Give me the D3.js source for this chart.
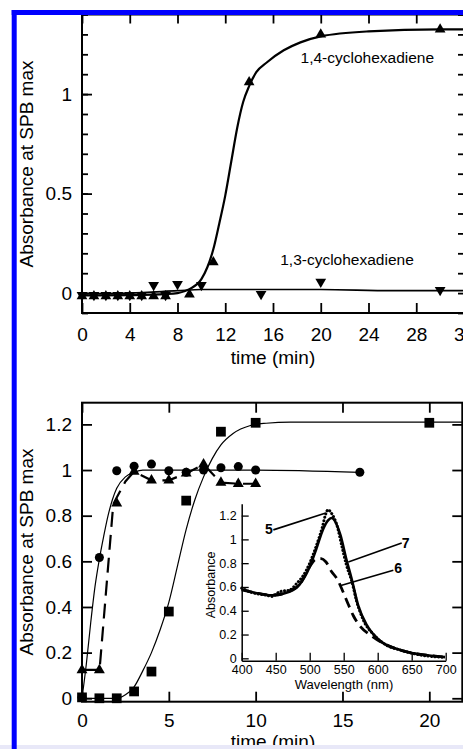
<!DOCTYPE html>
<html>
<head>
<meta charset="utf-8">
<script src="https://d3js.org/d3.v7.min.js"></script>
<style>
  body { margin: 0; background: #fff; }
  text { font-family: "Liberation Sans", Arial, sans-serif; fill: #000; }
</style>
</head>
<body>
<div id="chart"></div>
<script>
// ---- top panel: cyclohexadiene data ----
var time14 = [0, 1, 2, 3, 4, 5, 6, 7, 9, 11, 14, 20, 30];
var abs14 = [-0.015, -0.015, -0.015, -0.015, -0.015, -0.015, -0.015, -0.015, -0.007, 0.155, 1.06, 1.30, 1.325];
var time13 = [0, 1, 2, 3, 4, 5, 6, 7, 8, 10, 15, 20, 30];
var abs13 = [-0.01, -0.01, -0.01, -0.01, -0.01, -0.01, 0.04, -0.01, 0.045, 0.04, -0.005, 0.057, 0.015];
// fitted curves
var fit14Time = [0, 4, 7, 8, 9, 10, 10.5, 11, 11.5, 12, 12.5, 13, 13.5, 14, 14.6, 15.5, 16.9, 18.3, 20, 24, 30, 32];
var fit14Abs = [-0.012, -0.01, -0.005, 0.0, 0.02, 0.07, 0.13, 0.22, 0.35, 0.49, 0.66, 0.83, 0.96, 1.04, 1.11, 1.16, 1.22, 1.26, 1.29, 1.315, 1.325, 1.325];
var fit13Time = [0, 4, 8, 10, 20, 26, 32];
var fit13Abs = [-0.003, 0.0, 0.012, 0.018, 0.018, 0.012, 0.012];
var topXTicks = [0, 4, 8, 12, 16, 20, 24, 28, 32];
var topYTicks = [0, 0.5, 1];

// ---- bottom panel ----
var circTime = [0, 1, 2, 3, 4, 5, 6, 7, 8, 9, 10, 16];
var circAbs = [0.004, 0.617, 0.997, 1.017, 1.026, 0.997, 0.99, 1.0, 1.01, 1.015, 1.0, 0.99];
var triTime = [0, 1, 2, 3, 4, 5, 6, 7, 8, 9, 10];
var triAbs = [0.124, 0.124, 0.854, 0.993, 0.955, 0.955, 0.985, 1.025, 0.945, 0.94, 0.94];
var sqTime = [0, 1, 2, 3, 4, 5, 6, 8, 10, 20];
var sqAbs = [0.004, 0.0, 0.0, 0.03, 0.117, 0.38, 0.866, 1.168, 1.207, 1.207];
var circFitTime = [0, 0.25, 0.5, 0.75, 1, 1.25, 1.5, 1.75, 2, 2.5, 3, 3.5, 5, 10, 16];
var circFitAbs = [0, 0.15, 0.33, 0.49, 0.61, 0.71, 0.80, 0.87, 0.92, 0.97, 0.99, 1.0, 1.0, 1.0, 0.99];
var triFitTime = [0, 1, 1.05, 1.8, 2, 2.5, 3, 4, 5, 6, 7, 8, 9, 10];
var triFitAbs = [0.124, 0.124, 0.16, 0.85, 0.88, 0.95, 0.993, 0.955, 0.955, 0.985, 1.025, 0.945, 0.94, 0.94];
var sqFitTime = [0, 2, 2.5, 3, 3.5, 4, 4.5, 5, 5.5, 6, 6.5, 7, 7.5, 8, 8.7, 9.7, 10.6, 12, 22];
var sqFitAbs = [0, 0, 0.015, 0.05, 0.12, 0.2, 0.3, 0.42, 0.58, 0.74, 0.87, 0.97, 1.05, 1.11, 1.16, 1.195, 1.205, 1.21, 1.21];
var botXTicks = [0, 5, 10, 15, 20];
var botYTicks = [0, 0.2, 0.4, 0.6, 0.8, 1, 1.2];

// ---- inset spectra ----
var wl5 = [400, 417, 437, 444, 456, 471, 481, 491, 500, 510, 518, 524, 527, 532, 540, 547, 554, 562, 569, 579, 594, 613, 633, 657, 682, 699];
var spec5 = [0.59, 0.55, 0.53, 0.52, 0.56, 0.575, 0.63, 0.70, 0.80, 0.95, 1.09, 1.22, 1.25, 1.22, 1.12, 0.95, 0.785, 0.645, 0.48, 0.32, 0.20, 0.11, 0.07, 0.034, 0.014, 0.008];
var wl7 = [400, 420, 445, 470, 485, 500, 510, 520, 527, 532, 545, 554, 562, 571, 584, 603, 633, 682, 699];
var spec7 = [0.58, 0.55, 0.53, 0.56, 0.62, 0.77, 0.925, 1.09, 1.16, 1.18, 1.04, 0.83, 0.66, 0.45, 0.28, 0.15, 0.07, 0.02, 0.01];
var wl6 = [400, 420, 445, 470, 485, 500, 508, 515, 524, 532, 540, 549, 557, 564, 574, 589, 608, 633, 682, 699];
var spec6 = [0.575, 0.55, 0.53, 0.565, 0.62, 0.77, 0.83, 0.84, 0.81, 0.73, 0.67, 0.56, 0.45, 0.36, 0.27, 0.196, 0.126, 0.07, 0.02, 0.01];
var insetXTicks = [400, 450, 500, 550, 600, 650, 700];
var insetYTicks = [0, 0.2, 0.4, 0.6, 0.8, 1, 1.2];
var specNames = ["5", "7", "6"];
var nameWl = [440, 641, 630];
var nameAbs = [1.09, 0.967, 0.761];
var leadWl1 = [446.5, 556.8, 544.6];
var leadAbs1 = [1.08, 0.81, 0.61];
var leadWl2 = [522.5, 635.3, 623];
var leadAbs2 = [1.22, 0.97, 0.74];

function zip(xs, ys) { return xs.map(function(x, i) { return [x, ys[i]]; }); }

var svg = d3.select("#chart").append("svg")
    .attr("width", 463).attr("height", 749);

var triUp = d3.symbol().type(d3.symbolTriangle);

// ================= TOP PANEL =================
var xT = d3.scaleLinear().domain([0, 32]).range([82, 464]);
var yT = d3.scaleLinear().domain([-0.1, 1.4]).range([313, 14.5]);
var topG = svg.append("g");

topG.append("g").attr("transform", "translate(0,313)")
    .call(d3.axisBottom(xT).tickValues(topXTicks).tickSizeInner(-10).tickSizeOuter(0).tickPadding(15).tickFormat(d3.format("d")))
    .call(function(g) { g.select(".domain").remove(); g.selectAll("text").attr("font-size", 19); g.selectAll("line").attr("stroke-width", 1.8); });
topG.append("g").attr("transform", "translate(0,14.5)")
    .call(d3.axisTop(xT).tickValues(topXTicks).tickSizeInner(-9).tickSizeOuter(0).tickFormat(""))
    .call(function(g) { g.select(".domain").remove(); g.selectAll("line").attr("stroke-width", 1.8); });
topG.append("g").attr("transform", "translate(82,0)")
    .call(d3.axisLeft(yT).tickValues(topYTicks).tickSizeInner(-10).tickSizeOuter(0).tickPadding(10).tickFormat(d3.format("")))
    .call(function(g) { g.select(".domain").remove(); g.selectAll("text").attr("font-size", 19); g.selectAll("line").attr("stroke-width", 1.8); });
topG.append("g").attr("transform", "translate(82,0)")
    .call(d3.axisLeft(yT).ticks(15).tickSizeInner(-6).tickSizeOuter(0).tickFormat(""))
    .call(function(g) { g.select(".domain").remove(); g.selectAll("line").attr("stroke-width", 1.8); });
topG.append("g").attr("transform", "translate(464,0)")
    .call(d3.axisRight(yT).ticks(15).tickSizeInner(-6).tickSizeOuter(0).tickFormat(""))
    .call(function(g) { g.select(".domain").remove(); g.selectAll("line").attr("stroke-width", 1.8); });
topG.append("rect").attr("x", 82).attr("y", 14.5).attr("width", 382).attr("height", 298.5)
    .attr("fill", "none").attr("stroke", "#000").attr("stroke-width", 2);

var lineT = d3.line().x(function(d) { return xT(d[0]); }).y(function(d) { return yT(d[1]); }).curve(d3.curveMonotoneX);
topG.append("path").attr("d", lineT(zip(fit13Time, fit13Abs)))
    .attr("fill", "none").attr("stroke", "#000").attr("stroke-width", 1.7);
topG.append("path").attr("d", lineT(zip(fit14Time, fit14Abs)))
    .attr("fill", "none").attr("stroke", "#000").attr("stroke-width", 2.2);

topG.selectAll(".t14").data(zip(time14, abs14)).enter().append("path")
    .attr("d", triUp.size(50)())
    .attr("transform", function(d) { return "translate(" + xT(d[0]) + "," + yT(d[1]) + ")"; });
topG.selectAll(".t13").data(zip(time13, abs13)).enter().append("path")
    .attr("d", triUp.size(50)())
    .attr("transform", function(d) { return "translate(" + xT(d[0]) + "," + yT(d[1]) + ") rotate(180)"; });

topG.append("text").attr("x", xT(23.9)).attr("y", yT(1.155)).attr("text-anchor", "middle")
    .attr("font-size", 15.5).text("1,4-cyclohexadiene");
topG.append("text").attr("x", xT(22.2)).attr("y", yT(0.14)).attr("text-anchor", "middle")
    .attr("font-size", 15.5).text("1,3-cyclohexadiene");
topG.append("text").attr("x", 273).attr("y", 364).attr("text-anchor", "middle")
    .attr("font-size", 19).text("time (min)");
topG.append("text").attr("transform", "translate(33,164) rotate(-90)").attr("text-anchor", "middle")
    .attr("font-size", 19).text("Absorbance at SPB max");

// ================= BOTTOM PANEL =================
var xB = d3.scaleLinear().domain([0, 21.9]).range([82, 462.3]);
var yB = d3.scaleLinear().domain([-0.015, 1.295]).range([701.7, 402.7]);
var botG = svg.append("g");

botG.append("g").attr("transform", "translate(0,701.7)")
    .call(d3.axisBottom(xB).tickValues(botXTicks).tickSizeInner(-10).tickSizeOuter(0).tickPadding(11.5))
    .call(function(g) { g.select(".domain").remove(); g.selectAll("text").attr("font-size", 19); g.selectAll("line").attr("stroke-width", 1.8); });
botG.append("g").attr("transform", "translate(0,402.7)")
    .call(d3.axisTop(xB).tickValues(botXTicks).tickSizeInner(-10).tickSizeOuter(0).tickFormat(""))
    .call(function(g) { g.select(".domain").remove(); g.selectAll("line").attr("stroke-width", 1.8); });
botG.append("g").attr("transform", "translate(82,0)")
    .call(d3.axisLeft(yB).tickValues(botYTicks).tickSizeInner(-10).tickSizeOuter(0).tickPadding(10).tickFormat(d3.format("")))
    .call(function(g) { g.select(".domain").remove(); g.selectAll("text").attr("font-size", 19); g.selectAll("line").attr("stroke-width", 1.8); });
botG.append("g").attr("transform", "translate(462.3,0)")
    .call(d3.axisRight(yB).tickValues(botYTicks).tickSizeInner(-10).tickSizeOuter(0).tickFormat(""))
    .call(function(g) { g.select(".domain").remove(); g.selectAll("line").attr("stroke-width", 1.8); });
botG.append("rect").attr("x", 82).attr("y", 402.7).attr("width", 380.3).attr("height", 299)
    .attr("fill", "none").attr("stroke", "#000").attr("stroke-width", 2);

var lineB = d3.line().x(function(d) { return xB(d[0]); }).y(function(d) { return yB(d[1]); });
botG.append("path").attr("d", lineB.curve(d3.curveMonotoneX)(zip(sqFitTime, sqFitAbs)))
    .attr("fill", "none").attr("stroke", "#000").attr("stroke-width", 1.2);
botG.append("path").attr("d", lineB.curve(d3.curveMonotoneX)(zip(circFitTime, circFitAbs)))
    .attr("fill", "none").attr("stroke", "#000").attr("stroke-width", 1.2);
botG.append("path").attr("d", lineB.curve(d3.curveLinear)(zip(triFitTime, triFitAbs)))
    .attr("fill", "none").attr("stroke", "#000").attr("stroke-width", 2.2).attr("stroke-dasharray", "15,8");

botG.selectAll(".sq").data(zip(sqTime, sqAbs)).enter().append("path")
    .attr("d", d3.symbol().type(d3.symbolSquare).size(95)())
    .attr("transform", function(d) { return "translate(" + xB(d[0]) + "," + yB(d[1]) + ")"; });
botG.selectAll(".ci").data(zip(circTime, circAbs)).enter().append("path")
    .attr("d", d3.symbol().type(d3.symbolCircle).size(64)())
    .attr("transform", function(d) { return "translate(" + xB(d[0]) + "," + yB(d[1]) + ")"; });
botG.selectAll(".tr").data(zip(triTime, triAbs)).enter().append("path")
    .attr("d", triUp.size(52)())
    .attr("transform", function(d) { return "translate(" + xB(d[0]) + "," + yB(d[1]) + ")"; });

botG.append("text").attr("x", 273).attr("y", 748).attr("text-anchor", "middle")
    .attr("font-size", 19).text("time (min)");
botG.append("text").attr("transform", "translate(33,552) rotate(-90)").attr("text-anchor", "middle")
    .attr("font-size", 19).text("Absorbance at SPB max");

// ================= INSET =================
var xI = d3.scaleLinear().domain([400, 700]).range([241.7, 445.7]);
var yI = d3.scaleLinear().domain([-0.02, 1.3]).range([660.7, 503.7]);
var insG = svg.append("g");

insG.append("g").attr("transform", "translate(0,660.7)")
    .call(d3.axisBottom(xI).tickValues(insetXTicks).tickSizeInner(-8).tickSizeOuter(0).tickPadding(4))
    .call(function(g) { g.select(".domain").attr("stroke-width", 1.5); g.selectAll("text").attr("font-size", 12.5); g.selectAll("line").attr("stroke-width", 1.3); });
insG.append("g").attr("transform", "translate(241.7,0)")
    .call(d3.axisLeft(yI).tickValues(insetYTicks).tickSizeInner(-7).tickSizeOuter(0).tickPadding(5).tickFormat(d3.format("")))
    .call(function(g) { g.select(".domain").attr("stroke-width", 1.5); g.selectAll("text").attr("font-size", 12.5); g.selectAll("line").attr("stroke-width", 1.3); });

var lineI = d3.line().x(function(d) { return xI(d[0]); }).y(function(d) { return yI(d[1]); }).curve(d3.curveMonotoneX);
insG.append("path").attr("d", lineI(zip(wl7, spec7)))
    .attr("fill", "none").attr("stroke", "#000").attr("stroke-width", 2.6);
insG.append("path").attr("d", lineI(zip(wl6, spec6)))
    .attr("fill", "none").attr("stroke", "#000").attr("stroke-width", 2.8).attr("stroke-dasharray", "10,6");
insG.append("path").attr("d", lineI(zip(wl5, spec5)))
    .attr("fill", "none").attr("stroke", "#000").attr("stroke-width", 3).attr("stroke-dasharray", "0.1,3.4").attr("stroke-linecap", "round");

insG.selectAll(".lead").data(specNames).enter().append("line")
    .attr("x1", function(d, i) { return xI(leadWl1[i]); }).attr("y1", function(d, i) { return yI(leadAbs1[i]); })
    .attr("x2", function(d, i) { return xI(leadWl2[i]); }).attr("y2", function(d, i) { return yI(leadAbs2[i]); })
    .attr("stroke", "#000").attr("stroke-width", 1.6);
insG.selectAll(".nm").data(specNames).enter().append("text")
    .attr("x", function(d, i) { return xI(nameWl[i]); }).attr("y", function(d, i) { return yI(nameAbs[i]); })
    .attr("dy", "0.36em").attr("text-anchor", "middle").attr("font-size", 14).attr("font-weight", "bold")
    .text(function(d) { return d; });

insG.append("text").attr("x", 344).attr("y", 689).attr("text-anchor", "middle")
    .attr("font-size", 13).text("Wavelength (nm)");
insG.append("text").attr("transform", "translate(214.5,585) rotate(-90)").attr("text-anchor", "middle")
    .attr("font-size", 12.5).text("Absorbance");

// ================= frame =================
svg.append("rect").attr("x", 0).attr("y", 745).attr("width", 463).attr("height", 4).attr("fill", "#e8e8f8");
svg.append("rect").attr("x", 11.7).attr("y", 10).attr("width", 452).attr("height", 5).attr("fill", "#0000ff");
svg.append("rect").attr("x", 11.7).attr("y", 10).attr("width", 5).attr("height", 739).attr("fill", "#0000ff");
</script>
</body>
</html>
